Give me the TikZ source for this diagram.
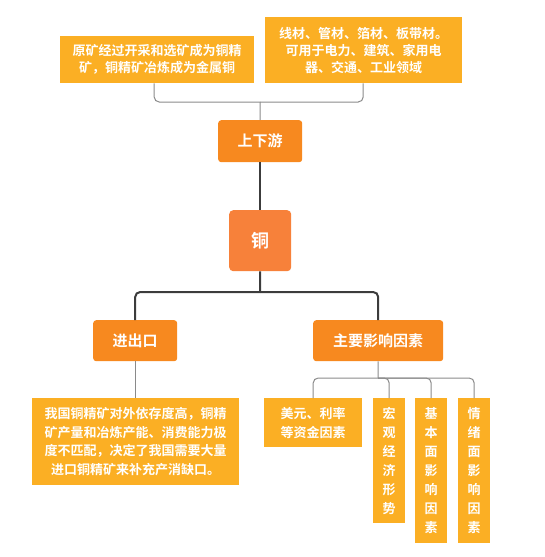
\documentclass[tikz,border=0pt]{standalone}
\usepackage{fontspec}
\setmainfont{Noto Sans CJK SC}[BoldFont={* Bold}]
\definecolor{amber}{HTML}{FBAF24}
\definecolor{orng}{HTML}{F7891F}
\definecolor{copper}{HTML}{F7813A}
\definecolor{thinline}{HTML}{8A8A8A}
\definecolor{thickline}{HTML}{3C3C3C}
\begin{document}
\begin{tikzpicture}[x=1pt,y=-1pt,
  leaf/.style={fill=amber,text=white,inner sep=0pt,font=\fontsize{13}{17}\selectfont\bfseries,align=center,anchor=north west},
  mid/.style={fill=orng,text=white,rounded corners=3pt,inner sep=0pt,font=\fontsize{15}{18}\selectfont\bfseries,anchor=north west},
  thin/.style={draw=thinline,line width=1pt,rounded corners=5pt},
  thick/.style={draw=thickline,line width=2pt,rounded corners=5pt}]
\useasboundingbox (0,0) rectangle (545,557);
% top leaves
\node[leaf,minimum width=194pt,minimum height=47pt] (tl) at (60,36) {原矿经过开采和选矿成为铜精\\矿，铜精矿冶炼成为金属铜};
\node[leaf,minimum width=197pt,minimum height=66pt] (tr) at (265,17) {线材、管材、箔材、板带材。\\可用于电力、建筑、家用电\\器、交通、工业领域};
% mid nodes
\node[mid,minimum width=84pt,minimum height=42pt] (up) at (218,120) {上下游};
\node[fill=copper,text=white,rounded corners=4pt,inner sep=0pt,font=\fontsize{18}{20}\selectfont\bfseries,anchor=north west,minimum width=62pt,minimum height=61pt] (cu) at (229,210) {铜};
\node[mid,minimum width=84pt,minimum height=41pt] (io) at (93,320) {进出口};
\node[mid,minimum width=130pt,minimum height=41pt] (fac) at (313,320) {主要影响因素};
% bottom leaves
\node[leaf,minimum width=207pt,minimum height=87pt,font=\fontsize{13}{18.5}\selectfont\bfseries] (imp) at (32,398) {我国铜精矿对外依存度高，铜精\\矿产量和冶炼产能、消费能力极\\度不匹配，决定了我国需要大量\\进口铜精矿来补充产消缺口。};
\node[leaf,minimum width=98pt,minimum height=49pt,font=\fontsize{13}{19}\selectfont\bfseries] (usd) at (264,398) {美元、利率\\等资金因素};
\node[leaf,minimum width=32pt,minimum height=125pt,font=\fontsize{13}{19}\selectfont\bfseries] (mac) at (373,398) {宏\\观\\经\\济\\形\\势};
\node[leaf,minimum width=32pt,minimum height=145pt,font=\fontsize{13}{19}\selectfont\bfseries] (fun) at (415,398) {基\\本\\面\\影\\响\\因\\素};
\node[leaf,minimum width=32pt,minimum height=145pt,font=\fontsize{13}{19}\selectfont\bfseries] (sen) at (458,398) {情\\绪\\面\\影\\响\\因\\素};
% connectors top
\coordinate (tj) at (260,102);
\draw[thin] (up.north) -- (tj);
\draw[thin] (tj) -| ([xshift=-3pt]tl.south);
\draw[thin] (tj) -| ([xshift=-0.5pt]tr.south);
\draw[draw=thickline,line width=1.8pt] (up.south) -- (cu.north);
% copper to children
\coordinate (cj) at (260,292);
\draw[thick] (cu.south) -- (cj);
\draw[thick] (cj) -| (io.north);
\draw[thick] (cj) -| (fac.north);
\draw[thin] (io.south) -- (io.south |- imp.north);
% factors
\coordinate (fj) at (378,378);
\draw[thin] (fac.south) -- (fj);
\draw[thin] (fj) -| (usd.north);
\draw[thin] (fj) -| (mac.north);
\draw[thin] (fj) -| (fun.north);
\draw[thin] (fj) -| (sen.north);
\end{tikzpicture}
\end{document}
